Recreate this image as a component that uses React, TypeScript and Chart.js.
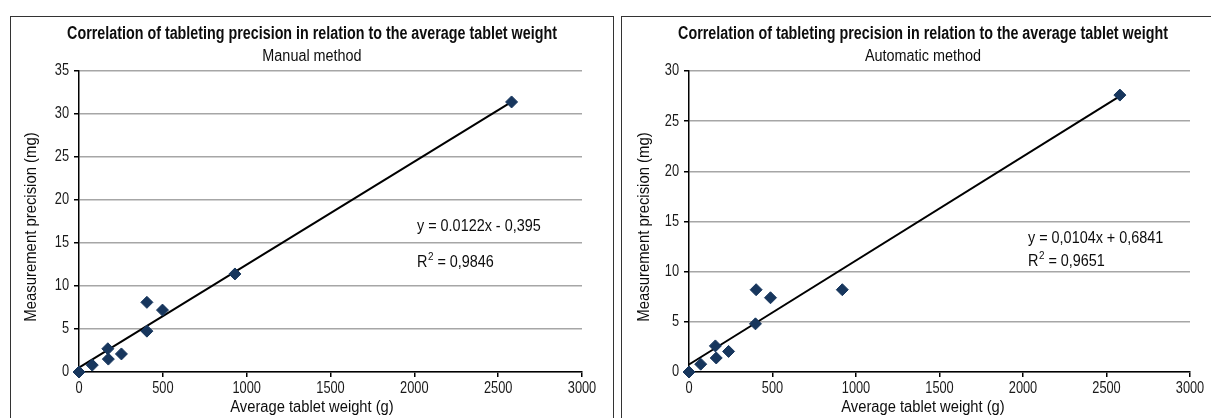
import React, { useEffect, useRef } from "react";
import { Chart, registerables } from "chart.js";

Chart.register(...registerables);

const FONT = "'Liberation Sans', Arial, sans-serif";

const chartTitle = "Correlation of tableting precision in relation to the average tablet weight";
const subtitles = ["Manual method", "Automatic method"];
const xTitle = "Average tablet weight (g)";
const yTitle = "Measurement precision (mg)";

const xTicks = [0, 500, 1000, 1500, 2000, 2500, 3000];
const manualYTicks = [0, 5, 10, 15, 20, 25, 30, 35];
const automaticYTicks = [0, 5, 10, 15, 20, 25, 30];

const manualWeights = [0, 79, 172, 175, 253, 405, 405, 498, 930, 2580];
const manualPrecision = [0, 0.8, 2.7, 1.5, 2.1, 8.1, 4.75, 7.2, 11.4, 31.4];
const automaticWeights = [0, 70, 158, 163, 237, 398, 402, 488, 918, 2580];
const automaticPrecision = [0, 0.78, 2.6, 1.4, 2.05, 4.8, 8.2, 7.4, 8.2, 27.6];

const manualTrendX = [0, 2580];
const manualTrendY = [0.5, 31.4];
const automaticTrendX = [0, 2580];
const automaticTrendY = [0.75, 27.5];

const manualEquation = ["y = 0.0122x - 0,395", "0,9846"];
const automaticEquation = ["y = 0,0104x + 0,6841", "0,9651"];

type PanelCfg = {
  subtitle: string;
  weights: number[];
  precision: number[];
  trendX: number[];
  trendY: number[];
  yTicks: number[];
  equation: string[];
  eqPos: { x: number; y1: number; y2: number };
  yWidth: number;
  padRight: number;
  yTitleX: number;
};

const panels: PanelCfg[] = [
  {
    subtitle: subtitles[0],
    weights: manualWeights,
    precision: manualPrecision,
    trendX: manualTrendX,
    trendY: manualTrendY,
    yTicks: manualYTicks,
    equation: manualEquation,
    eqPos: { x: 406, y1: 210, y2: 246 },
    yWidth: 68,
    padRight: 31,
    yTitleX: 21,
  },
  {
    subtitle: subtitles[1],
    weights: automaticWeights,
    precision: automaticPrecision,
    trendX: automaticTrendX,
    trendY: automaticTrendY,
    yTicks: automaticYTicks,
    equation: automaticEquation,
    eqPos: { x: 406, y1: 222, y2: 245 },
    yWidth: 67,
    padRight: 34,
    yTitleX: 23,
  },
];

const W = 602;
const H = 401;

function drawText(ctx: CanvasRenderingContext2D, text: string, x: number, y: number, font: string, sx: number, align: CanvasTextAlign) {
  ctx.save();
  ctx.font = font;
  ctx.textBaseline = "middle";
  ctx.textAlign = align;
  ctx.translate(x, y);
  ctx.scale(sx, 1);
  ctx.fillText(text, 0, 0);
  ctx.restore();
}

function textWidth(ctx: CanvasRenderingContext2D, text: string, font: string, sx: number) {
  ctx.save();
  ctx.font = font;
  const w = ctx.measureText(text).width * sx;
  ctx.restore();
  return w;
}

function Panel({ cfg }: { cfg: PanelCfg }) {
  const ref = useRef<HTMLCanvasElement | null>(null);
  useEffect(() => {
    if (!ref.current) return;
    const yMax = cfg.yTicks[cfg.yTicks.length - 1];
    const textPlugin = {
      id: "texts",
      afterDraw(chart: any) {
        const ctx: CanvasRenderingContext2D = chart.ctx;
        const area = chart.chartArea;
        const xs = chart.scales.x;
        const ys = chart.scales.y;
        ctx.save();
        ctx.fillStyle = "#0d0d0d";
        drawText(ctx, chartTitle, W / 2, 17, `bold 18px ${FONT}`, 0.795, "center");
        drawText(ctx, cfg.subtitle, W / 2, 40, `16px ${FONT}`, 0.9, "center");
        // ticks
        ctx.fillStyle = "#1a1a1a";
        const tf = `16px ${FONT}`;
        xTicks.forEach((v) => {
          drawText(ctx, String(v), xs.getPixelForValue(v), area.bottom + 17, tf, 0.8, "center");
        });
        cfg.yTicks.forEach((v) => {
          drawText(ctx, String(v), area.left - 10, ys.getPixelForValue(v), tf, 0.8, "right");
        });
        // axis titles
        ctx.fillStyle = "#0d0d0d";
        drawText(ctx, xTitle, W / 2, area.bottom + 36, `16px ${FONT}`, 0.92, "center");
        ctx.save();
        ctx.translate(cfg.yTitleX, 210);
        ctx.rotate(-Math.PI / 2);
        drawText(ctx, yTitle, 0, 0, `16px ${FONT}`, 0.93, "center");
        ctx.restore();
        // equation
        const ef = `16px ${FONT}`;
        const sx = 0.9;
        drawText(ctx, cfg.equation[0], cfg.eqPos.x, cfg.eqPos.y1, ef, sx, "left");
        let x = cfg.eqPos.x;
        drawText(ctx, "R", x, cfg.eqPos.y2, ef, sx, "left");
        x += textWidth(ctx, "R", ef, sx) + 0.5;
        drawText(ctx, "2", x, cfg.eqPos.y2 - 6, `11px ${FONT}`, sx, "left");
        x += textWidth(ctx, "2", `11px ${FONT}`, sx);
        drawText(ctx, " = " + cfg.equation[1], x, cfg.eqPos.y2, ef, sx, "left");
        ctx.restore();
      },
    };
    const chart = new Chart(ref.current, {
      type: "scatter",
      data: {
        datasets: [
          {
            type: "scatter",
            data: cfg.weights.map((w, i) => ({ x: w, y: cfg.precision[i] })),
            pointStyle: "rectRot",
            pointRadius: 6,
            backgroundColor: "#17365d",
            borderColor: "#17365d",
            borderWidth: 1,
            clip: false,
          } as any,
          {
            type: "line",
            data: cfg.trendX.map((w, i) => ({ x: w, y: cfg.trendY[i] })),
            borderColor: "#000",
            borderWidth: 2,
            pointRadius: 0,
            fill: false,
            clip: false,
          } as any,
        ],
      },
      options: {
        animation: false,
        responsive: false,
        maintainAspectRatio: false,
        layout: { padding: { top: 54, right: cfg.padRight, left: 0, bottom: 0 }, autoPadding: false } as any,
        plugins: { legend: { display: false }, tooltip: { enabled: false }, title: { display: false } },
        scales: {
          x: {
            type: "linear",
            min: 0,
            max: 3000,
            afterBuildTicks: (s: any) => {
              s.ticks = xTicks.map((v) => ({ value: v }));
            },
            afterFit: (s: any) => {
              s.height = H - 355;
            },
            ticks: { color: "rgba(0,0,0,0)", font: { family: FONT, size: 12 }, padding: 1, maxRotation: 0 },
            grid: { drawOnChartArea: false, drawTicks: true, tickLength: 5, tickColor: "#000", lineWidth: 1.5 },
            border: { display: true, color: "#000", width: 1.5 },
            title: { display: false },
          },
          y: {
            type: "linear",
            min: 0,
            max: yMax,
            afterBuildTicks: (s: any) => {
              s.ticks = cfg.yTicks.map((v) => ({ value: v }));
            },
            afterFit: (s: any) => {
              s.width = cfg.yWidth;
            },
            ticks: { color: "rgba(0,0,0,0)", font: { family: FONT, size: 12 }, padding: 4 },
            grid: { drawOnChartArea: true, drawTicks: true, tickLength: 5, color: "#a6a6a6", tickColor: "#000", lineWidth: 1.5 },
            border: { display: true, color: "#000", width: 1.5 },
            title: { display: false },
          },
        },
      } as any,
      plugins: [textPlugin],
    });
    return () => chart.destroy();
  }, [cfg]);
  return <canvas ref={ref} width={W} height={H} style={{ width: W, height: H, display: "block" }} />;
}

export default function App() {
  return (
    <div style={{ position: "fixed", left: 0, top: 0, width: 1211, height: 418, overflow: "hidden", background: "#fff" }}>
      <div style={{ position: "absolute", left: 10, top: 16, width: W, height: 440, border: "1px solid #333" }}>
        <Panel cfg={panels[0]} />
      </div>
      <div style={{ position: "absolute", left: 621, top: 16, width: W, height: 440, border: "1px solid #333" }}>
        <Panel cfg={panels[1]} />
      </div>
    </div>
  );
}
